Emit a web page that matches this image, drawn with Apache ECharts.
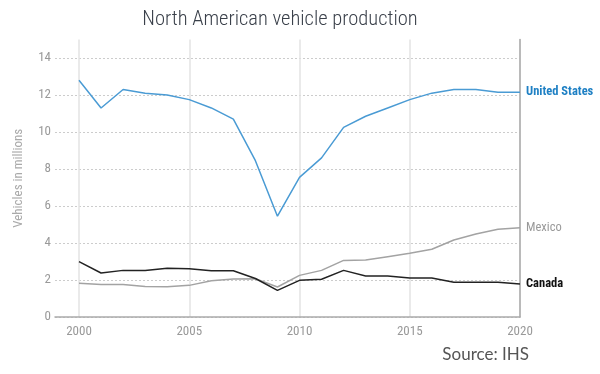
<!DOCTYPE html>
<html><head><meta charset="utf-8">
<script src="https://cdn.jsdelivr.net/npm/echarts@6/dist/echarts.min.js"></script>
<style>html,body{margin:0;padding:0;background:#fff}#c{width:600px;height:374px}</style>
</head><body><div id="c"></div>
<script>
const years = [2000,2001,2002,2003,2004,2005,2006,2007,2008,2009,2010,2011,2012,2013,2014,2015,2016,2017,2018,2019,2020];
const unitedStates = [12.8,11.3,12.3,12.1,12.0,11.75,11.3,10.7,8.45,5.45,7.55,8.6,10.25,10.85,11.3,11.75,12.1,12.3,12.3,12.15,12.15];
const mexico = [1.82,1.76,1.76,1.65,1.63,1.71,1.96,2.05,2.07,1.62,2.25,2.52,3.06,3.08,3.26,3.44,3.66,4.16,4.49,4.74,4.83];
const canada = [2.99,2.38,2.52,2.52,2.63,2.61,2.50,2.50,2.08,1.44,1.98,2.04,2.52,2.22,2.22,2.11,2.11,1.88,1.88,1.88,1.78];
const yTicks = [0,2,4,6,8,10,12,14];
const xTicks = [2000,2005,2010,2015,2020];

const narrow = "'Roboto Condensed', 'Liberation Sans', sans-serif";
const chart = echarts.init(document.getElementById('c'), null, {renderer:'canvas'});
function pairs(arr){ return years.map((y,i)=>[y,arr[i]]); }
function series(name, data, color, labelColor, bold){
  return {
    type:'line', name, data:pairs(data), xAxisIndex:0, yAxisIndex:0,
    symbol:'none', lineStyle:{color, width:1.5}, itemStyle:{color},
    endLabel:{show:true, formatter:name, color:labelColor, fontFamily:narrow,
      fontSize:12.5, fontWeight:bold?'bold':'normal', distance:6},
    emphasis:{disabled:true}, animation:false, z:5
  };
}
chart.setOption({
  animation:false,
  title:[
    {text:'North American vehicle production', left:275, top:4, textAlign:'center',
     textStyle:{fontFamily:narrow, fontWeight:300, fontSize:20.5, color:'#3a404a'}},
    {text:'Source: IHS', right:66, top:341,
     textStyle:{fontFamily:'Lato', fontWeight:'normal', fontSize:17, color:'#555'}}
  ],
  grid:[
    {left:79, right:80, top:39.5, bottom:57},
    {left:55, right:80, top:39.5, bottom:57}
  ],
  xAxis:[
    {type:'value', gridIndex:0, min:xTicks[0], max:xTicks[xTicks.length-1], interval:5,
     axisLine:{show:false}, axisTick:{show:false},
     axisLabel:{color:'#999', fontFamily:narrow, fontSize:13, margin:8, formatter:v=>String(v)},
     splitLine:{show:true, lineStyle:{color:'#e3e3e3', width:1.5, type:'solid'}}},
    {type:'value', gridIndex:1, min:0, max:1,
     axisLine:{show:true, lineStyle:{color:'#aaa', width:1.5}}, axisTick:{show:false},
     axisLabel:{show:false}, splitLine:{show:false}}
  ],
  yAxis:[
    {type:'value', gridIndex:0, min:0, max:15, position:'right',
     axisLine:{show:true, lineStyle:{color:'#aaa', width:1.5}}, axisTick:{show:false},
     axisLabel:{show:false}, splitLine:{show:false}},
    {type:'value', gridIndex:1, min:yTicks[0], max:15, interval:2,
     name:'Vehicles in millions', nameLocation:'middle', nameGap:30,
     nameTextStyle:{color:'#aaa', fontFamily:narrow, fontSize:13},
     axisLine:{show:false}, axisTick:{show:false},
     axisLabel:{color:'#999', fontFamily:narrow, fontSize:13, margin:4, showMaxLabel:false},
     splitLine:{show:true, showMaxLine:false, lineStyle:{color:'#ccc', type:[2,2], width:1}}}
  ],
  series:[
    series('United States', unitedStates, '#4a9bd4', '#1f80c4', true),
    series('Mexico', mexico, '#a3a3a3', '#999', false),
    series('Canada', canada, '#222', '#111', true)
  ]
});
</script></body></html>
